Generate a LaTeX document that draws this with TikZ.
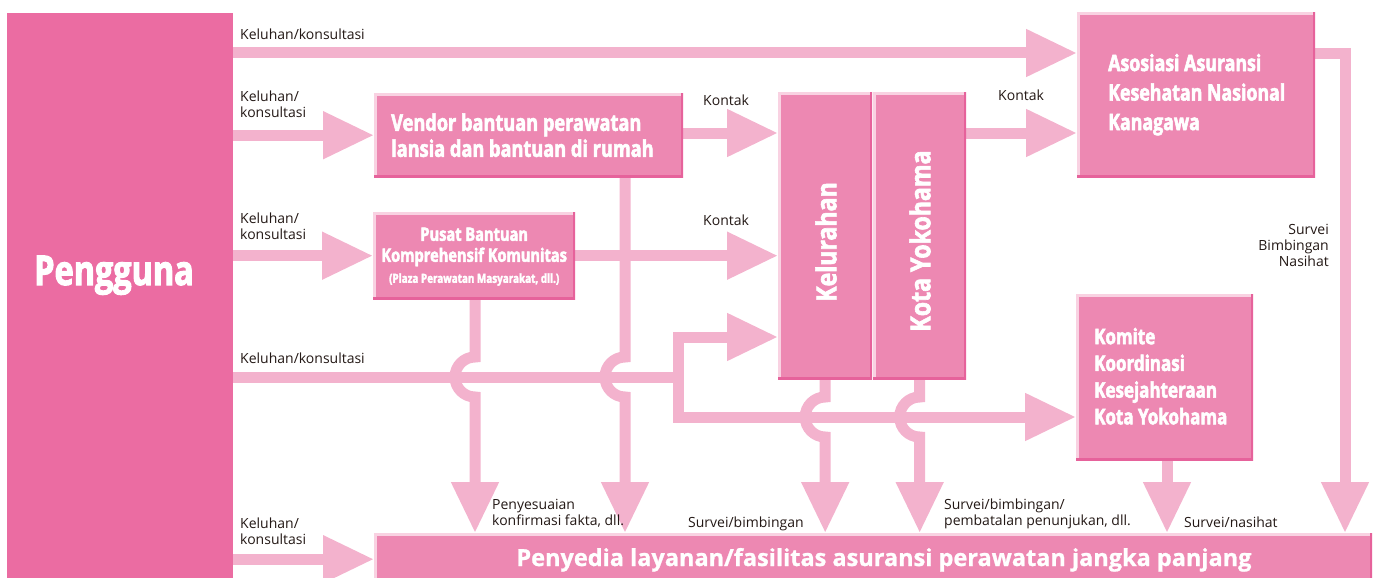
\documentclass[tikz,border=0pt]{standalone}
\usepackage{fontspec}
\setmainfont[BoldFeatures={FakeBold=1}]{Open Sans}
\newfontfamily\condfont[FakeStretch=0.79, BoldFeatures={FakeBold=2.5}]{Open Sans}
\newfontfamily\vertfont[FakeStretch=0.84, BoldFeatures={FakeBold=2.2}]{Open Sans}
\usetikzlibrary{arrows.meta,positioning,calc,backgrounds}
\definecolor{userpink}{RGB}{235,108,162}
\definecolor{boxpink}{RGB}{237,136,178}
\definecolor{flowpink}{RGB}{243,178,205}
\definecolor{bevlight}{RGB}{249,210,226}
\definecolor{bevdark}{RGB}{230,98,155}
\definecolor{labelcol}{RGB}{35,24,21}
\tikzset{
  orgbox/.style={fill=boxpink, inner sep=0pt, anchor=north west,
    path picture={
      \draw[bevlight, line width=5pt] (path picture bounding box.south west)
        -- (path picture bounding box.north west) -- (path picture bounding box.north east);
      \draw[bevdark, line width=5pt] (path picture bounding box.south west)
        -- (path picture bounding box.south east) -- (path picture bounding box.north east);
    }},
  flowline/.style={draw=flowpink, line width=11pt},
  flow/.style={flowline, -{Triangle[length=51pt, width=45pt]}},
  lbl/.style={text=labelcol, inner sep=0pt, align=left, anchor=base west,
    font=\fontsize{14}{16}\selectfont},
  boxtitle/.style={text=white, inner sep=0pt, align=left,
    font=\condfont\bfseries\fontsize{23}{26}\selectfont},
  vtitle/.style={text=white, inner sep=0pt, rotate=90,
    font=\vertfont\bfseries\fontsize{27.5}{27.5}\selectfont},
}

\begin{document}
\begin{tikzpicture}[x=1pt, y=-1pt]
  \path[use as bounding box, clip] (0,0) rectangle (1374,578);
  % Users
  \node[fill=userpink, inner sep=0pt, anchor=north west,
    minimum width=226pt, minimum height=600pt] (user) at (7,13) {};
  \node[text=white, inner sep=0pt, anchor=base,
    font=\condfont\bfseries\fontsize{41}{41}\selectfont] (usertext) at (114,285) {Pengguna};
  % Organisations
  \node[orgbox, minimum width=309pt, minimum height=84pt] (vendor) at (374,93) {};
  \node[boxtitle, anchor=west] (vendortext) at ([xshift=17pt]vendor.west)
    {Vendor bantuan perawatan\\lansia dan bantuan di rumah};
  \node[orgbox, minimum width=202pt, minimum height=87pt] (pusat) at (373,212) {};
  \node[boxtitle, align=center, font=\condfont\bfseries\fontsize{18.5}{21}\selectfont]
    (pusattext) at ([yshift=-1pt]pusat.center)
    {Pusat Bantuan\\Komprehensif Komunitas\\{\fontsize{12.5}{21}\selectfont(Plaza Perawatan Masyarakat, dll.)}};
  \node[orgbox, minimum width=94pt, minimum height=287pt] (kel) at (778,92) {};
  \node[orgbox, minimum width=93pt, minimum height=287pt] (kota) at (873,92) {};
  \node[vtitle] (keltext) at (826,242) {Kelurahan};
  \node[vtitle] (kotatext) at (920,241) {Kota Yokohama};
  \node[orgbox, minimum width=238pt, minimum height=165pt] (asuransi) at (1077,12) {};
  \node[boxtitle, anchor=west, font=\condfont\bfseries\fontsize{22.5}{29.5}\selectfont]
    (asuransitext) at ([xshift=31pt]asuransi.west)
    {Asosiasi Asuransi\\Kesehatan Nasional\\Kanagawa};
  \node[orgbox, minimum width=177pt, minimum height=166pt] (komite) at (1076,294) {};
  \node[boxtitle, anchor=west, font=\condfont\bfseries\fontsize{21.5}{26.7}\selectfont]
    (komitetext) at ([xshift=18pt,yshift=1pt]komite.west)
    {Komite\\Koordinasi\\Kesejahteraan\\Kota Yokohama};
  \node[orgbox, minimum width=998pt, minimum height=52pt] (bar) at (374,533) {};
  \node[text=white, inner sep=0pt, anchor=base,
    font=\bfseries\fontsize{23.5}{24}\selectfont] (bartext) at (884,566)
    {Penyedia layanan/fasilitas asuransi perawatan jangka panjang};
  % Flows
  \begin{scope}[on background layer]
    \draw[flow] (user.east |- 0,53) -- (asuransi.west |- 0,53);
    \draw[flow] (user.east |- vendor.west) -- (vendor.west);
    \draw[flow] (user.east |- pusat.west) -- (pusat.west);
    \draw[flow] (user.east |- bar.west) -- (bar.west);
    \draw[flowline] (user.east |- 0,377) -- (678,377);
    \draw[flow] (678,377) |- (kel.west |- 0,337);
    \draw[flow] (678,377) |- (komite.west |- 0,417);
    \draw[flow] (vendor.east |- 0,133) -- (kel.west |- 0,133);
    \draw[flow] (pusat.east) -- (kel.west |- pusat.east);
    \draw[flow] (kota.east |- 0,133) -- (asuransi.west |- 0,133);
    \draw[flow] (asuransi.east |- 0,54) -| (1345,0 |- bar.north);
    \draw[flow] (komite.south -| 1167,0) -- (1167,0 |- bar.north);
    \draw[flow] (pusat.south -| 475,0) -- (475,357)
      arc[start angle=-90, end angle=-270, radius=20] -- (475,0 |- bar.north);
    \draw[flow] (vendor.south -| 625,0) -- (625,357)
      arc[start angle=-90, end angle=-270, radius=20] -- (625,0 |- bar.north);
    \draw[flow] (kel.south) -- (kel.south |- 0,397)
      arc[start angle=-90, end angle=-270, radius=20] -- (kel.south |- bar.north);
    \draw[flow] (kota.south) -- (kota.south |- 0,397)
      arc[start angle=-90, end angle=-270, radius=20] -- (kota.south |- bar.north);
  \end{scope}
  % Labels
  \node[lbl] (lbltop) at (240,40) {Keluhan/konsultasi};
  \node[lbl, anchor=north west] (lblvendor) at (240,91) {Keluhan/\\konsultasi};
  \node[lbl, anchor=north west] (lblpusat) at (240,213) {Keluhan/\\konsultasi};
  \node[lbl] (lblmid) at (240,363) {Keluhan/konsultasi};
  \node[lbl, anchor=north west] (lblbar) at (240,518) {Keluhan/\\konsultasi};
  \node[lbl] (kontak1) at (703,105) {Kontak};
  \node[lbl] (kontak2) at (703,225) {Kontak};
  \node[lbl] (kontak3) at (998,100) {Kontak};
  \node[lbl, anchor=north east, align=right] (lblsurvei) at (1329,224)
    {Survei\\Bimbingan\\Nasihat};
  \node[lbl, anchor=north west] (lblpusatdown) at (492,499)
    {Penyesuaian\\konfirmasi fakta, dll.};
  \node[lbl] (lblkeldown) at (688,527) {Survei/bimbingan};
  \node[lbl, anchor=north west] (lblkotadown) at (944,499)
    {Survei/bimbingan/\\pembatalan penunjukan, dll.};
  \node[lbl] (lblkomitedown) at (1184,527) {Survei/nasihat};
\end{tikzpicture}
\end{document}
